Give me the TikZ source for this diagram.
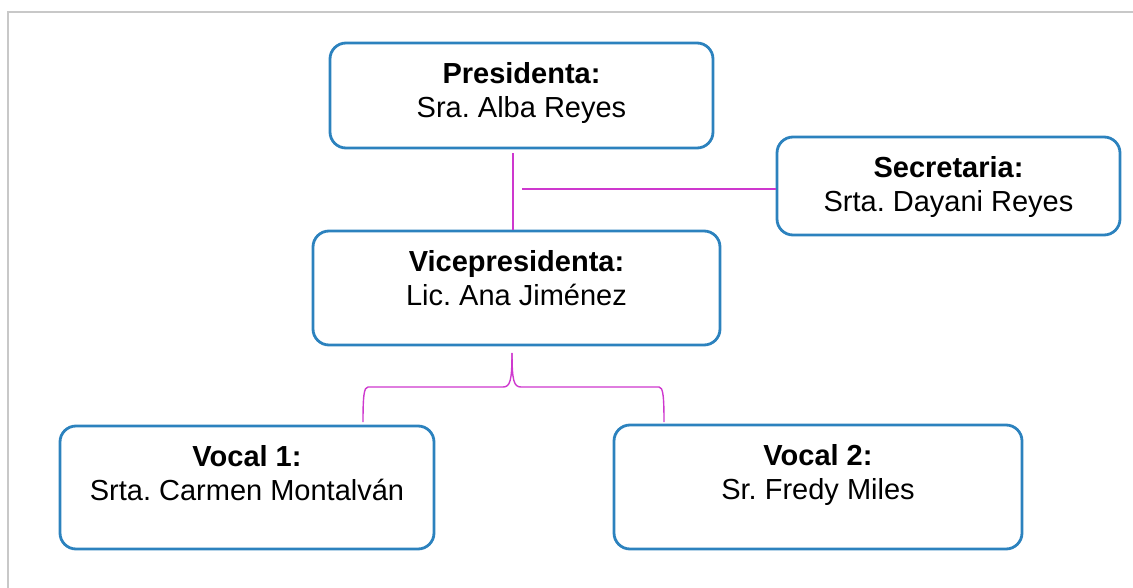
\documentclass[tikz,border=0pt]{standalone}
\usepackage{fontspec}
\setmainfont{Liberation Sans}
\usetikzlibrary{calc}
\definecolor{boxblue}{RGB}{44,130,190}
\definecolor{linkpink}{RGB}{206,56,206}
\definecolor{framegray}{RGB}{200,200,200}
\frenchspacing
\begin{document}
\begin{tikzpicture}[x=1pt,y=-1pt,
	box/.style={draw=boxblue,line width=2.8pt,rounded corners=16pt,inner sep=0pt},
	txt/.style={anchor=north,align=center,inner sep=0pt,font=\fontsize{29}{34}\selectfont},
	link/.style={draw=linkpink,line width=1.4pt}]
	\useasboundingbox (0,0) rectangle (1133,588);
	% Draw the frame
	\draw[framegray,line width=2.5pt] (8,588) -- (8,12) -- (1133,12);
	% Draw the boxes
	\node[box,minimum width=383pt,minimum height=105pt] (pres) at (521.5,95.5) {};
	\node[box,minimum width=343pt,minimum height=98pt] (sec) at (948.5,186) {};
	\node[box,minimum width=407pt,minimum height=114pt] (vice) at (516.5,288) {};
	\node[box,minimum width=374pt,minimum height=123pt] (voc1) at (247,487.5) {};
	\node[box,minimum width=408pt,minimum height=124pt] (voc2) at (818,487) {};
	% Labels
	\node[txt] (pres-t) at ([yshift=-21pt]pres.north) {\textbf{Presidenta:}\\Sra. Alba Reyes};
	\node[txt] (sec-t) at ([yshift=-21pt]sec.north) {\textbf{Secretaria:}\\Srta. Dayani Reyes};
	\node[txt] (vice-t) at ([yshift=-21pt]vice.north) {\textbf{Vicepresidenta:}\\Lic. Ana Jiménez};
	\node[txt] (voc1-t) at ([yshift=-21pt]voc1.north) {\textbf{Vocal 1:}\\Srta. Carmen Montalván};
	\node[txt] (voc2-t) at ([yshift=-21pt]voc2.north) {\textbf{Vocal 2:}\\Sr. Fredy Miles};
	% Draw the lines from the top
	\coordinate (trunk) at (513,189);
	\draw[link] ([yshift=-4pt]pres.south -| trunk) -- (vice.north -| trunk);
	\draw[link] ([xshift=9pt]trunk) -- (sec.west |- trunk);
	% Draw the brace to the vocals
	\coordinate (tip) at (512,353);
	\coordinate (legl) at (363,422);
	\coordinate (legr) at (664,422);
	\draw[link] (tip) .. controls (512,381) and (510,387) .. (503,387) -- (368,387)
		.. controls (364,387) and (363,396) .. (legl);
	\draw[link] (tip) .. controls (512,381) and (514,387) .. (521,387) -- (659,387)
		.. controls (663,387) and (664,396) .. (legr);
\end{tikzpicture}
\end{document}
